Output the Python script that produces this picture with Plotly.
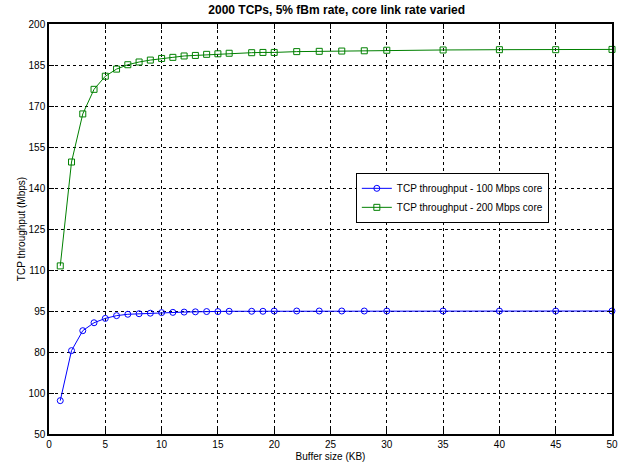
import plotly.graph_objects as go

buffer_kb = [1, 2, 3, 4, 5, 6, 7, 8, 9, 10, 11, 12, 13, 14, 15, 16, 18, 19, 20,
             22, 24, 26, 28, 30, 35, 40, 45, 50]
tput_100 = [62.2, 80.5, 87.8, 90.7, 92.3, 93.3, 93.8, 94.0, 94.2, 94.4, 94.5, 94.6,
            94.7, 94.8, 94.8, 94.9, 94.9, 94.9, 95.0, 95.0, 95.0, 95.0, 95.0, 95.0,
            95.0, 95.0, 95.0, 95.0]
tput_200 = [111.5, 149.5, 167.1, 176.1, 180.9, 183.5, 185.1, 186.1, 186.8, 187.4,
            187.8, 188.3, 188.5, 188.9, 189.1, 189.3, 189.5, 189.6, 189.6, 189.9,
            190.0, 190.1, 190.2, 190.4, 190.5, 190.6, 190.6, 190.7]

x_ticks = [0, 5, 10, 15, 20, 25, 30, 35, 40, 45, 50]
y_tickvals = [50, 65, 80, 95, 110, 125, 140, 155, 170, 185, 200]
y_ticktext = ["50", "100", "80", "95", "110", "125", "140", "155", "170", "185", "200"]

font = "Liberation Sans, Arial, Helvetica, sans-serif"

fig = go.Figure()
fig.add_trace(go.Scatter(
    x=buffer_kb, y=tput_100, mode="lines+markers",
    name="TCP throughput - 100 Mbps core",
    line=dict(color="#0000ff", width=1),
    marker=dict(symbol="circle-open", size=6, color="#0000ff", line=dict(width=1)),
    cliponaxis=False,
))
fig.add_trace(go.Scatter(
    x=buffer_kb, y=tput_200, mode="lines+markers",
    name="TCP throughput - 200 Mbps core",
    line=dict(color="#008000", width=1),
    marker=dict(symbol="square-open", size=6, color="#008000", line=dict(width=1)),
    cliponaxis=False,
))

axis_common = dict(
    showline=True, linecolor="black", linewidth=1.5, mirror="allticks",
    ticks="inside", ticklen=5, tickcolor="black",
    showgrid=True, gridcolor="black", griddash="dot", gridwidth=1,
    zeroline=False, tickfont=dict(size=10, color="black", family=font),
    automargin=False,
)

fig.update_layout(
    width=627, height=468,
    margin=dict(l=49, r=15, t=24, b=34),
    paper_bgcolor="white", plot_bgcolor="white",
    font=dict(family=font, size=10, color="black"),
    title=dict(text="<b>2000 TCPs, 5% fBm rate, core link rate varied</b>",
               x=0.537, xanchor="center", y=0.988, yanchor="top",
               font=dict(size=12, family=font, color="black")),
    xaxis=dict(range=[0, 50], tickvals=x_ticks,
               title=dict(text="Buffer size (KB)", standoff=4,
                          font=dict(size=10, family=font)),
               **axis_common),
    yaxis=dict(range=[50, 200], tickvals=y_tickvals, ticktext=y_ticktext,
               title=dict(text="TCP throughput (Mbps)", standoff=1,
                          font=dict(size=10, family=font)),
               **axis_common),
    legend=dict(x=0.545, y=0.637, xanchor="left", yanchor="top",
                bgcolor="white", bordercolor="black", borderwidth=1,
                font=dict(size=10, family=font),
                itemwidth=30, tracegroupgap=0),
    showlegend=True,
)

fig.write_html("out.html", config={"displayModeBar": False},
               post_script="document.body.style.margin='0';document.body.style.padding='0';")
